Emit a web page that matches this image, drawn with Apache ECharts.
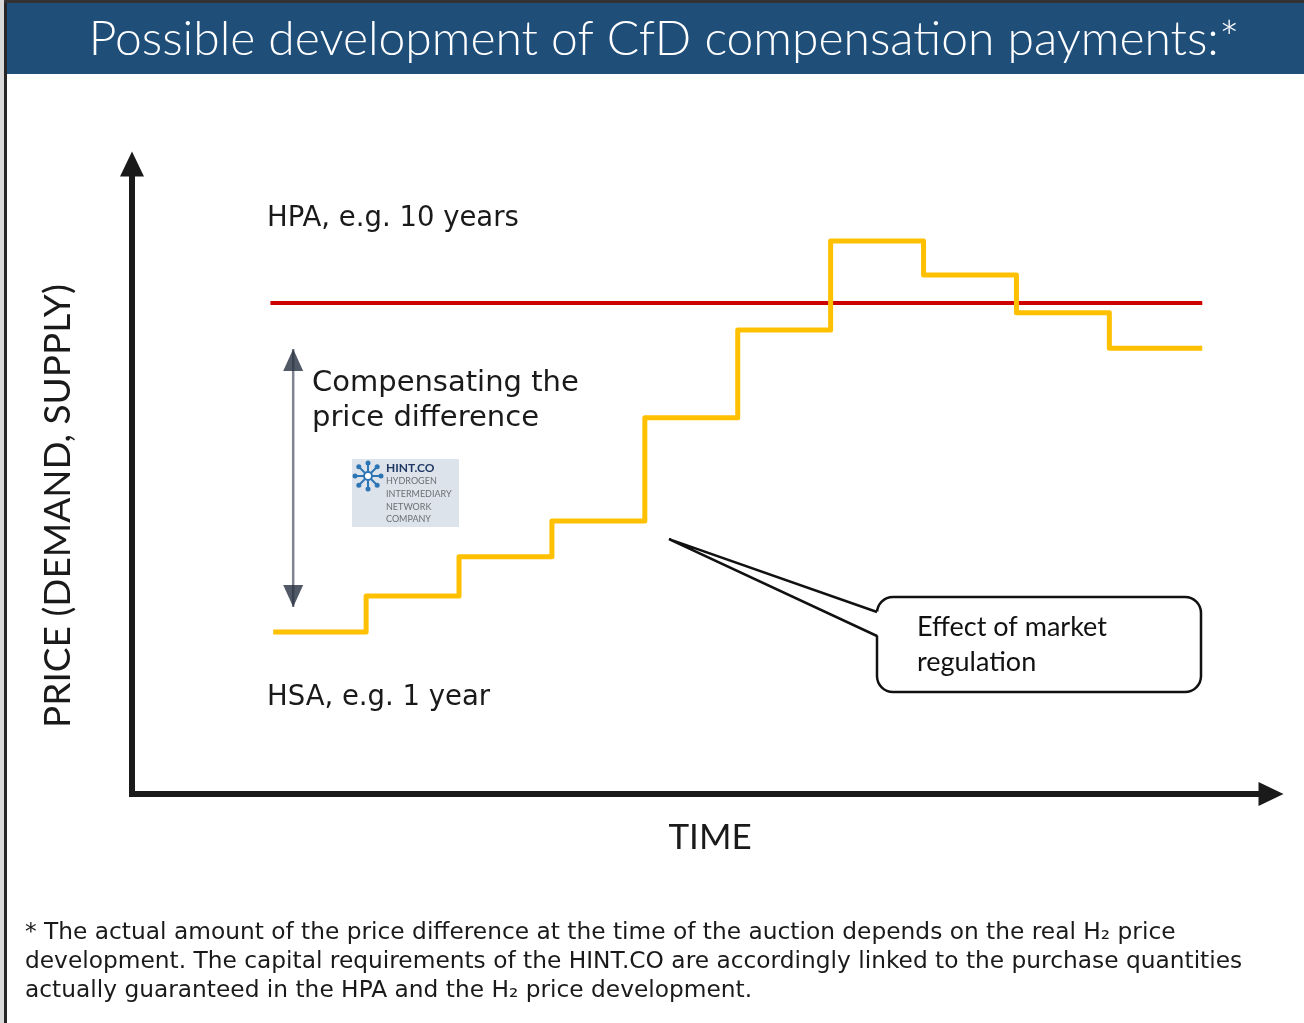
<!DOCTYPE html>
<html>
<head>
<meta charset="utf-8">
<script src="https://cdn.jsdelivr.net/npm/echarts@6/dist/echarts.min.js"></script>
<style>
html, body { margin: 0; padding: 0; background: #fff; }
#main { width: 1304px; height: 1023px; }
</style>
</head>
<body>
<div id="main"></div>
<script>
// time in years since start of the HPA, price in % of the HPA price
var years = [0, 1, 2, 3, 4, 5, 6, 7, 8, 9, 10];
var hsaPrice = [33.0, 40.3, 48.3, 55.6, 76.6, 94.5, 112.6, 105.7, 98.0, 90.8, 90.8];
var hpaYears = [-0.03, 10];
var hpaPrice = 100;
var diffArrowYear = 0.215;
var diffArrowRange = [38.1, 90.6];
var calloutTarget = [4.26, 51.9];

var footnote = [
  '* The actual amount of the price difference at the time of the auction depends on the real H\u2082 price',
  'development. The capital requirements of the HINT.CO are accordingly linked to the purchase quantities',
  'actually guaranteed in the HPA and the H\u2082 price development.'
];

var gothic = '"DejaVu Sans"';
var thin = 'Lato';
var calibri = 'Lato';

var myChart = echarts.init(document.getElementById('main'));

var option = {
    animation: false,
    backgroundColor: '#fff',
    grid: { left: 132, top: 164, right: 33, bottom: 229 },
    xAxis: {
        type: 'value',
        min: -1.52,
        max: 10.74,
        axisLine: {
            show: true,
            onZero: false,
            symbol: ['none', 'triangle'],
            symbolSize: [24, 25],
            lineStyle: { color: '#1a1a1a', width: 6, cap: 'square' }
        },
        axisTick: { show: false },
        axisLabel: { show: false },
        splitLine: { show: false }
    },
    yAxis: {
        type: 'value',
        min: 0,
        max: 128.3,
        axisLine: {
            show: true,
            onZero: false,
            symbol: ['none', 'triangle'],
            symbolSize: [24, 25],
            lineStyle: { color: '#1a1a1a', width: 6, cap: 'square' }
        },
        axisTick: { show: false },
        axisLabel: { show: false },
        splitLine: { show: false }
    },
    series: [
        {
            name: 'HPA',
            type: 'line',
            data: hpaYears.map(function (t) { return [t, hpaPrice]; }),
            showSymbol: false,
            lineStyle: { color: '#cc0000', width: 4 },
            z: 2
        },
        {
            name: 'HSA',
            type: 'line',
            step: 'end',
            data: years.map(function (t, i) { return [t, hsaPrice[i]]; }),
            showSymbol: false,
            lineStyle: { color: '#ffc000', width: 5, join: 'round' },
            z: 3
        },
        {
            name: 'diff',
            type: 'line',
            data: diffArrowRange.map(function (v) { return [diffArrowYear, v]; }),
            showSymbol: false,
            lineStyle: { color: '#7f8590', width: 2.5 },
            z: 3
        },
        {
            name: 'diffHeads',
            type: 'scatter',
            symbol: 'triangle',
            symbolSize: [20, 22],
            itemStyle: { color: '#263040' },
            data: [
                { value: [diffArrowYear, diffArrowRange[1]], symbolOffset: [0, 11] },
                { value: [diffArrowYear, diffArrowRange[0]], symbolRotate: 180, symbolOffset: [0, -11] }
            ],
            z: 4
        }
    ]
};
myChart.setOption(option);

var tip = myChart.convertToPixel({ gridIndex: 0 }, calloutTarget);

// logo snowflake
var flake = [];
var cx = 368, cy = 476;
for (var k = 0; k < 8; k++) {
    var a = k * Math.PI / 4;
    flake.push({ type: 'line', shape: { x1: cx, y1: cy, x2: cx + 12 * Math.cos(a), y2: cy + 12 * Math.sin(a) },
        style: { stroke: '#2e75b6', lineWidth: 2 } });
    flake.push({ type: 'circle', shape: { cx: cx + 13 * Math.cos(a), cy: cy + 13 * Math.sin(a), r: 2.5 },
        style: { fill: '#2e75b6' } });
}
flake.push({ type: 'circle', shape: { cx: cx, cy: cy, r: 4 }, style: { fill: '#fff', stroke: '#2e75b6', lineWidth: 2 } });

var graphics = [
    { type: 'rect', shape: { x: 5, y: 3, width: 1299, height: 71 }, style: { fill: '#1f4e79' } },
    { type: 'rect', shape: { x: 0, y: 0, width: 4, height: 1023 }, style: { fill: '#d9d9d9' } },
    { type: 'rect', shape: { x: 4, y: 0, width: 3, height: 1023 }, style: { fill: '#262626' } },
    { type: 'rect', shape: { x: 4, y: 0, width: 1300, height: 3 }, style: { fill: '#333' } },
    { type: 'text', x: 664, y: 40, style: { text: 'Possible development of CfD compensation payments:*',
        fill: '#fff', font: '300 48px ' + thin, align: 'center', verticalAlign: 'middle' } },

    { type: 'text', x: 267, y: 219, style: { text: 'HPA, e.g. 10 years', fill: '#1a1a1a',
        font: '27.5px ' + gothic, verticalAlign: 'middle' } },
    { type: 'text', x: 267, y: 698, style: { text: 'HSA, e.g. 1 year', fill: '#1a1a1a',
        font: '27.5px ' + gothic, verticalAlign: 'middle' } },
    { type: 'text', x: 312, y: 383, style: { text: 'Compensating the', fill: '#1a1a1a',
        font: '29px ' + gothic, verticalAlign: 'middle' } },
    { type: 'text', x: 312, y: 418, style: { text: 'price difference', fill: '#1a1a1a',
        font: '29px ' + gothic, verticalAlign: 'middle' } },
    { type: 'text', x: 710, y: 838, style: { text: 'TIME', fill: '#1a1a1a',
        font: '35px ' + thin, align: 'center', verticalAlign: 'middle' } },
    { type: 'text', x: 58, y: 506, rotation: Math.PI / 2, style: { text: 'PRICE (DEMAND, SUPPLY)', fill: '#1a1a1a',
        font: '37px ' + thin, align: 'center', verticalAlign: 'middle' } },

    // logo
    { type: 'rect', shape: { x: 352, y: 459, width: 107, height: 68 }, style: { fill: '#dde3ea' } },
    { type: 'group', children: flake },
    { type: 'text', x: 386, y: 468, style: { text: 'HINT.CO', fill: '#1f3864', font: 'bold 12px ' + thin, verticalAlign: 'middle' } },
    { type: 'text', x: 386, y: 481, style: { text: 'HYDROGEN', fill: '#6b6f75', font: '9px ' + thin, verticalAlign: 'middle' } },
    { type: 'text', x: 386, y: 494, style: { text: 'INTERMEDIARY', fill: '#6b6f75', font: '9px ' + thin, verticalAlign: 'middle' } },
    { type: 'text', x: 386, y: 507, style: { text: 'NETWORK', fill: '#6b6f75', font: '9px ' + thin, verticalAlign: 'middle' } },
    { type: 'text', x: 386, y: 519, style: { text: 'COMPANY', fill: '#6b6f75', font: '9px ' + thin, verticalAlign: 'middle' } },

    // callout
    { type: 'rect', shape: { x: 877, y: 597, width: 324, height: 95, r: 16 },
        style: { fill: '#fff', stroke: '#111', lineWidth: 2.5 }, z: 10 },
    { type: 'polygon', shape: { points: [[879, 612], tip, [879, 636]] }, style: { fill: '#fff' }, z: 11 },
    { type: 'polyline', shape: { points: [[877, 612], tip, [877, 636]] },
        style: { stroke: '#111', lineWidth: 2.5, fill: null }, z: 12 },
    { type: 'text', x: 917, y: 627, style: { text: 'Effect of market', fill: '#111',
        font: '27px ' + calibri, verticalAlign: 'middle' }, z: 13 },
    { type: 'text', x: 917, y: 662, style: { text: 'regulation', fill: '#111',
        font: '27px ' + calibri, verticalAlign: 'middle' }, z: 13 }
];

footnote.forEach(function (line, i) {
    graphics.push({ type: 'text', x: 25, y: 933 + i * 29, style: { text: line, fill: '#1a1a1a',
        font: '23.3px ' + gothic, verticalAlign: 'middle' } });
});

myChart.setOption({ graphic: graphics });
</script>
</body>
</html>
